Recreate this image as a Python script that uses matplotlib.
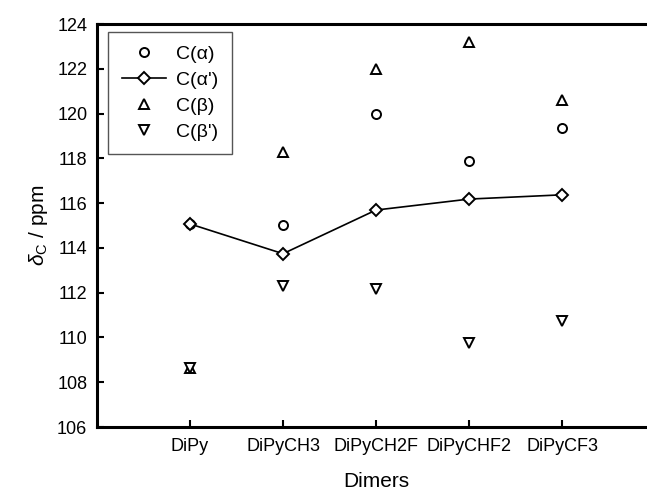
import numpy as np
import matplotlib.pyplot as plt

plt.rcParams['font.family'] = ['Liberation Sans', 'DejaVu Sans']
plt.rcParams['mathtext.fontset'] = 'custom'
plt.rcParams['mathtext.rm'] = 'Liberation Sans'
plt.rcParams['mathtext.it'] = 'Liberation Sans:italic'

# data
dimers = ['DiPy', 'DiPyCH3', 'DiPyCH2F', 'DiPyCHF2', 'DiPyCF3']
c_alpha = [115.07, 115.04, 119.97, 117.86, 119.34]
c_alpha_p = [115.07, 113.74, 115.69, 116.18, 116.37]
c_beta = [108.63, 118.3, 122.0, 123.19, 120.6]
c_beta_p = [108.63, 112.3, 112.17, 109.75, 110.73]

x = np.arange(1, len(dimers) + 1)

fig = plt.figure(figsize=(6.47, 4.94), dpi=100)
# axes run past the right edge, as in the original crop
ax = fig.add_axes([97/647, 67/494, 6*93/647, 403/494])

mk = dict(ms=6.5, mfc='white', mec='black', mew=1.4, ls='none')
ax.plot(x, c_alpha, marker='o', label='C(α)', **mk)
ax.plot(x, c_alpha_p, marker='D', color='black', lw=1.2, ms=6, mfc='white',
        mec='black', mew=1.4, label="C(α')")
ax.plot(x, c_beta, marker='^', label='C(β)', **mk)
ax.plot(x, c_beta_p, marker='v', label="C(β')", **mk)

ax.set_xlim(0, 6)
ax.set_ylim(106, 124)
ax.set_yticks(np.arange(106, 125, 2))
ax.set_xticks(x)
ax.set_xticklabels(dimers)
ax.tick_params(direction='in', length=5, width=1.5, labelsize=13, pad=7)
ax.tick_params(axis='x', pad=8)
for s in ax.spines.values():
    s.set_linewidth(2.2)

ax.set_xlabel('Dimers', fontsize=15, labelpad=12)
ax.set_ylabel(r'$\delta_{\rm C}$ / ppm', fontsize=15, labelpad=5)

leg = ax.legend(loc='upper left', bbox_to_anchor=(108/647, 1 - 32/494),
                bbox_transform=fig.transFigure, borderaxespad=0,
                fancybox=False, fontsize=14, handlelength=2.3,
                handletextpad=0.5, labelspacing=0.42, borderpad=0.7,
                framealpha=1)
leg.get_frame().set_edgecolor('#555555')
leg.get_frame().set_linewidth(1.0)

fig.savefig('out.png', dpi=100)
